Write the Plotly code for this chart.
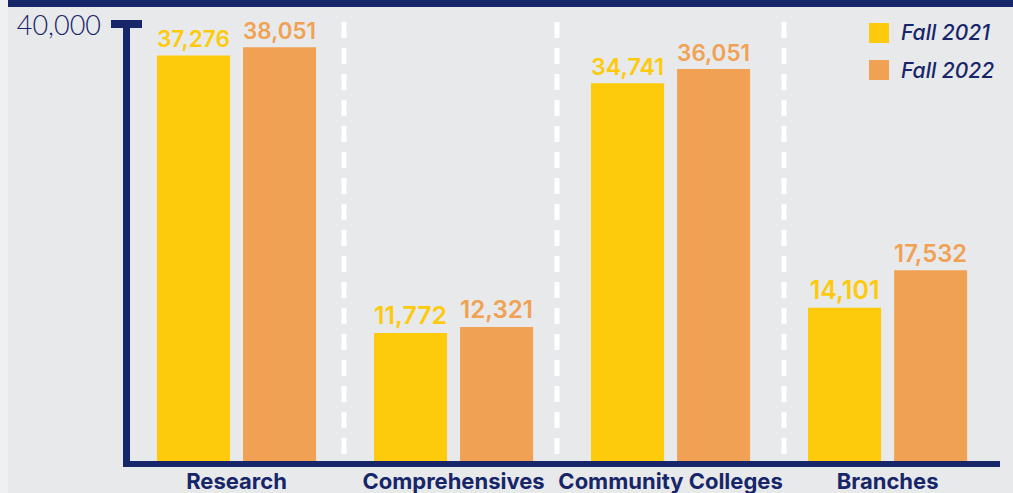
import plotly.graph_objects as go

categories = ["Research", "Comprehensives", "Community Colleges", "Branches"]
fall_2021 = [37276, 11772, 34741, 14101]
fall_2022 = [38051, 12321, 36051, 17532]
series_names = ["Fall 2021", "Fall 2022"]
y_tick_vals = [40000]
y_tick_text = ["40,000"]

NAVY = "#172668"
YELLOW = "#FDCB0B"
ORANGE = "#F0A153"
BG = "#E8E9EB"

W, H = 1013, 493
L, R, T, B = 128, 13, 26, 32
PW = W - L - R
PH = H - T - B

def px_x(p):
    return (p - L) / PW

def px_y(p):
    return 1 - (p - T) / PH

xpos = list(range(len(categories)))

fig = go.Figure()
for name, vals, col in [(series_names[0], fall_2021, YELLOW), (series_names[1], fall_2022, ORANGE)]:
    fig.add_trace(go.Bar(
        x=xpos, y=vals, name=name, marker=dict(color=col, line=dict(width=0)),
        texttemplate="%{y:,}", textposition="outside",
        textfont=dict(color=col, size=25, family="Inter, Lato, sans-serif", weight=600),
        cliponaxis=False, showlegend=False,
    ))

shapes = []
# lighter left strip
shapes.append(dict(type="rect", xref="paper", yref="paper", x0=px_x(-5), x1=px_x(8),
                   y0=px_y(H + 5), y1=px_y(-5), fillcolor="#F0F0F1", line=dict(width=0), layer="below"))
# top navy band
shapes.append(dict(type="rect", xref="paper", yref="paper", x0=px_x(8), x1=px_x(W + 5),
                   y0=px_y(0 - 5), y1=px_y(7), fillcolor=NAVY, line=dict(width=0), layer="above"))
# dashed separators
for sx in [344, 557, 784]:
    shapes.append(dict(type="line", xref="paper", yref="paper", x0=px_x(sx), x1=px_x(sx),
                       y0=px_y(22), y1=px_y(461), line=dict(color="white", width=5, dash="16px,10px"),
                       layer="below"))
# x axis line
shapes.append(dict(type="line", xref="paper", yref="paper", x0=px_x(123), x1=px_x(1000),
                   y0=px_y(464), y1=px_y(464), line=dict(color=NAVY, width=6)))
# y axis line
shapes.append(dict(type="line", xref="paper", yref="paper", x0=px_x(126.5), x1=px_x(126.5),
                   y0=px_y(20), y1=px_y(467), line=dict(color=NAVY, width=7)))
# T cap
shapes.append(dict(type="rect", xref="paper", yref="paper", x0=px_x(111), x1=px_x(142),
                   y0=px_y(28), y1=px_y(20), fillcolor=NAVY, line=dict(width=0)))
# legend squares
annotations = []
for i, (name, col) in enumerate(zip(series_names, [YELLOW, ORANGE])):
    top = 23 + i * 37
    shapes.append(dict(type="rect", xref="paper", yref="paper", x0=px_x(869), x1=px_x(889),
                       y0=px_y(top + 20), y1=px_y(top), fillcolor=col, line=dict(width=0)))
    annotations.append(dict(xref="paper", yref="paper", x=px_x(899), y=px_y(top + 10),
                            text=name, showarrow=False, xanchor="left", yanchor="middle",
                            font=dict(color=NAVY, size=21, family="Inter, Lato, sans-serif",
                                      style="italic", weight=500)))

fig.update_layout(
    width=W, height=H,
    margin=dict(l=L, r=R, t=T, b=B),
    paper_bgcolor=BG, plot_bgcolor=BG,
    barmode="group", bargap=0.207, bargroupgap=0.151,
    xaxis=dict(range=[-0.5, 3.518], tickvals=xpos, ticktext=categories, showgrid=False,
               zeroline=False, showline=False, ticks="", automargin=False,
               tickfont=dict(color=NAVY, size=22, family="Inter, Lato, sans-serif", weight=700),
               ticklabelstandoff=5),
    yaxis=dict(range=[0, 40000], tickvals=y_tick_vals, ticktext=y_tick_text, showgrid=False,
               zeroline=False, showline=False, ticks="", automargin=False,
               tickfont=dict(color=NAVY, size=27, family="Lato, sans-serif", weight=300),
               ticklabelstandoff=26),
    shapes=shapes, annotations=annotations,
)

fig.write_html("out.html")
